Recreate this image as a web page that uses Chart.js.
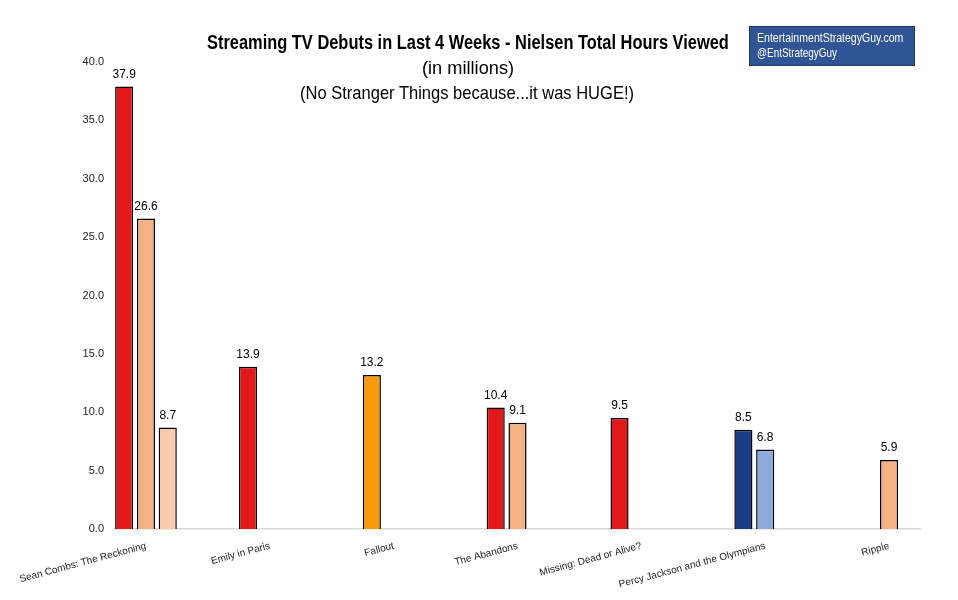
<!DOCTYPE html>
<html>
<head>
<meta charset="utf-8">
<script src="https://cdn.jsdelivr.net/npm/chart.js@4.4.1/dist/chart.umd.min.js"></script>
<style>
  body { margin: 0; background: #fff; }
  #wrap { position: relative; width: 958px; height: 600px; }
  .line {
    position: absolute; white-space: nowrap; color: #000;
    font-family: "Liberation Sans", Arial, sans-serif; transform-origin: 0 0;
  }
  #t1 { font-weight: bold; font-size: 19.5px; top: 31px; }
  #t2 { font-size: 19px; top: 57px; }
  #t3 { font-size: 19px; top: 82px; }
  #tag {
    position: absolute; left: 749px; top: 26px; width: 166px; height: 40px;
    background: #2F5597; border: 1px solid #1F3864; box-sizing: border-box;
  }
  #tag .line { color: #fff; font-size: 12.5px; left: 7px; }
  #g1 { top: 4px; }
  #g2 { top: 19px; }
</style>
</head>
<body>
<div id="wrap">
  <canvas id="chart" width="958" height="600"></canvas>
  <div class="line" id="t1">Streaming TV Debuts in Last 4 Weeks - Nielsen Total Hours Viewed</div>
  <div class="line" id="t2">(in millions)</div>
  <div class="line" id="t3">(No Stranger Things because...it was HUGE!)</div>
  <div id="tag">
    <div class="line" id="g1">EntertainmentStrategyGuy.com</div>
    <div class="line" id="g2">@EntStrategyGuy</div>
  </div>
</div>
<script>
const shows = ["Sean Combs: The Reckoning", "Emily in Paris", "Fallout", "The Abandons",
  "Missing: Dead or Alive?", "Percy Jackson and the Olympians", "Ripple"];
// three bar slots per show (null = empty slot)
const firstBar  = [37.9, 13.9, 13.2, 10.4, 9.5, 8.5, null];
const secondBar = [26.6, null, null, 9.1, null, 6.8, 5.9];
const thirdBar  = [8.7, null, null, null, null, null, null];
const yMax = 40;
const yStep = 5;

const RED = "#E2191B", PEACH = "#F4B183", LIGHTPEACH = "#F8CBAD",
      ORANGE = "#F79A0E", NAVY = "#1A3C87", SKY = "#8FAADC";
const firstColors  = [RED, RED, ORANGE, RED, RED, NAVY, RED];
const secondColors = [PEACH, PEACH, PEACH, PEACH, PEACH, SKY, PEACH];
const thirdColors  = [LIGHTPEACH, LIGHTPEACH, LIGHTPEACH, LIGHTPEACH, LIGHTPEACH, LIGHTPEACH, LIGHTPEACH];

// squeeze the title text to the narrow look of the original
const fit = (id, left, width) => {
  const el = document.getElementById(id);
  el.style.left = left + "px";
  el.style.transform = "scaleX(" + (width / el.offsetWidth) + ")";
};
fit("t1", 207, 522);
fit("t2", 422, 92);
fit("t3", 300, 334);
fit("g1", 7, 146);
fit("g2", 7, 80);

const toPoints = (arr) => arr.map((v, i) => ({ x: i, y: v })).filter((p) => p.y !== null);
const toColors = (arr, cols) => cols.filter((c, i) => arr[i] !== null);

const barLabels = {
  id: "barLabels",
  afterDatasetsDraw(chart) {
    const ctx = chart.ctx;
    ctx.save();
    ctx.font = '12px "Liberation Sans", Arial, sans-serif';
    ctx.fillStyle = "#000";
    ctx.textAlign = "center";
    ctx.textBaseline = "bottom";
    chart.data.datasets.forEach((ds, i) => {
      chart.getDatasetMeta(i).data.forEach((bar, j) => {
        ctx.fillText(ds.data[j].y.toFixed(1), bar.x, bar.y - 6);
      });
    });
    ctx.restore();
  }
};

const makeSet = (arr, cols) => ({
  data: toPoints(arr),
  backgroundColor: toColors(arr, cols),
  borderColor: "#000",
  borderWidth: 1.5,
  categoryPercentage: 0.528,
  barPercentage: 0.83
});

new Chart(document.getElementById("chart"), {
  type: "bar",
  data: {
    datasets: [
      makeSet(firstBar, firstColors),
      makeSet(secondBar, secondColors),
      makeSet(thirdBar, thirdColors)
    ]
  },
  options: {
    responsive: false,
    animation: false,
    layout: { padding: { top: 62, right: 38, bottom: 0, left: 0 } },
    plugins: { legend: { display: false }, tooltip: { enabled: false } },
    scales: {
      x: {
        type: "linear",
        min: -0.25,
        max: 6.25,
        offset: false,
        grid: { display: false, offset: false },
        border: { color: "#D9D9D9", width: 1.5 },
        afterFit: (s) => { s.height = 71; },
        ticks: {
          stepSize: 1,
          includeBounds: false,
          autoSkip: false,
          minRotation: 15,
          maxRotation: 15,
          color: "#222",
          font: { family: '"Liberation Sans", Arial, sans-serif', size: 10 },
          callback: (v) => shows[v]
        }
      },
      y: {
        min: 0,
        max: yMax,
        grid: { display: false },
        border: { display: false },
        afterFit: (s) => { s.width = 115; },
        ticks: {
          stepSize: yStep,
          color: "#222",
          font: { family: '"Liberation Sans", Arial, sans-serif', size: 11 },
          callback: (v) => v.toFixed(1)
        }
      }
    }
  },
  plugins: [barLabels]
});
</script>
</body>
</html>
